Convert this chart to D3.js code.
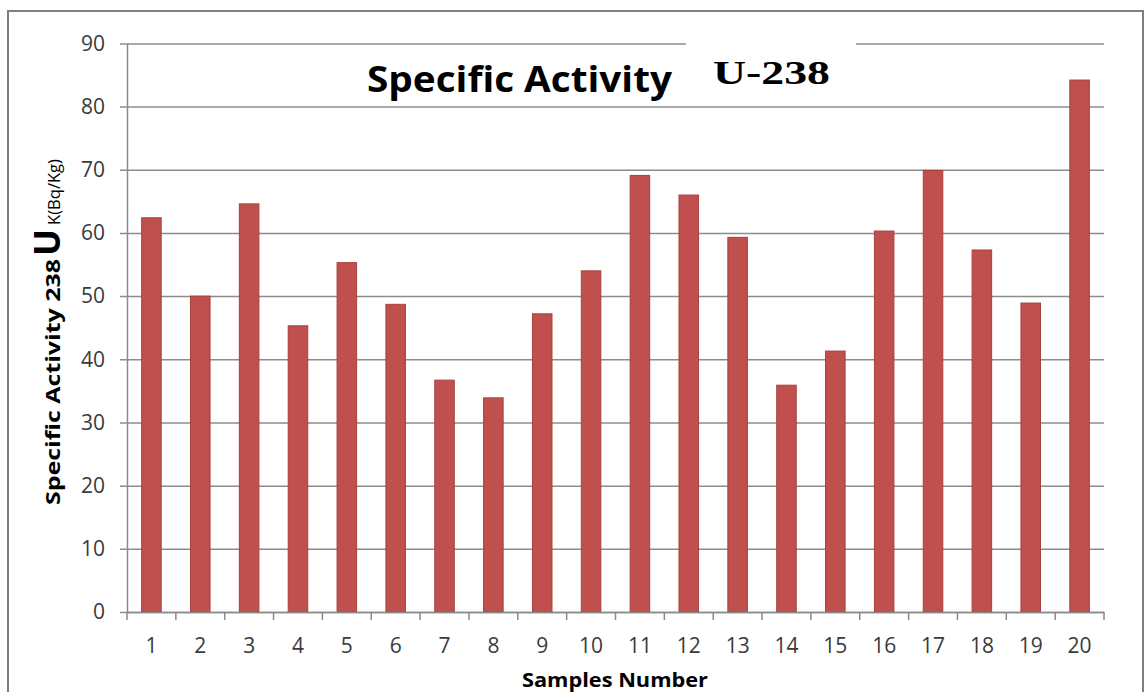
<!DOCTYPE html>
<html><head><meta charset="utf-8">
<script src="https://cdn.jsdelivr.net/npm/d3@7"></script>
<style>body{margin:0;background:#fff}svg{display:block}</style>
</head><body>
<svg id="c" width="1147" height="692"></svg>
<script>
const categories = ["1","2","3","4","5","6","7","8","9","10","11","12","13","14","15","16","17","18","19","20"];
const values = [62.4,50.0,64.6,45.3,55.3,48.7,36.7,33.9,47.2,54.0,69.1,66.0,59.3,35.9,41.3,60.3,69.9,57.3,48.9,84.2];
const yTicks = [0,10,20,30,40,50,60,70,80,90];

const svg = d3.select("#c");
const pL = 127, pR = 1104, pT = 43.4, pB = 612;
const x = d3.scaleBand().domain(categories).range([pL, pR]).paddingInner(0.6).paddingOuter(0.3);
const xb = d3.scaleBand().domain(categories).range([pL, pR]);
const y = d3.scaleLinear().domain([0, 90]).range([pB, pT]);

// outer frame
svg.append("rect").attr("x",8).attr("y",11).attr("width",1135).attr("height",700)
  .attr("fill","#fff").attr("stroke","#7f7f7f").attr("stroke-width",2);

// gridlines
const yAxis = d3.axisLeft(y).tickValues(yTicks).tickSize(-(pR-pL)).tickPadding(22).tickSizeOuter(0);
const gy = svg.append("g").attr("transform",`translate(${pL},0)`).call(yAxis);
gy.select(".domain").attr("stroke","#8a8a8a").attr("stroke-width",1.5);
gy.selectAll(".tick line").attr("stroke","#8c8c8c").attr("stroke-width",1.5).attr("x1",-7);
gy.selectAll(".tick text").attr("font-family","'Open Sans', sans-serif").attr("font-size",21).attr("fill","#3a3a3a");

// bars
svg.append("g").selectAll("rect").data(values).join("rect")
  .attr("x",(d,i)=>x(categories[i])).attr("width",x.bandwidth())
  .attr("y",d=>y(d)).attr("height",d=>y(0)-y(d))
  .attr("fill","#c0504d").attr("stroke","#a8413e").attr("stroke-width",1);

// x axis
const xAxis = d3.axisBottom(xb).tickSize(0).tickPadding(26);
const gx = svg.append("g").attr("transform",`translate(0,${pB})`).call(xAxis);
gx.select(".domain").attr("stroke","#8a8a8a").attr("stroke-width",1.5);
gx.selectAll(".tick text").attr("font-family","'Open Sans', sans-serif").attr("font-size",21).attr("fill","#3a3a3a");
const bounds = categories.map(c=>xb(c)).concat([pR]);
gx.selectAll(".bt").data(bounds).join("line").attr("class","bt")
  .attr("x1",d=>d).attr("x2",d=>d).attr("y1",0).attr("y2",8)
  .attr("stroke","#8a8a8a").attr("stroke-width",1.5);

// title
svg.append("rect").attr("x",686).attr("y",36).attr("width",170).attr("height",14).attr("fill","#fff");
svg.append("text").attr("x",367).attr("y",92).attr("font-family","'Open Sans', sans-serif")
  .attr("font-weight","bold").attr("font-size",36).attr("fill","#000")
  .attr("textLength",305).attr("lengthAdjust","spacingAndGlyphs").text("Specific Activity");
svg.append("text").attr("x",713).attr("y",84).attr("font-family","'Liberation Serif', serif")
  .attr("font-weight","bold").attr("font-size",34).attr("fill","#000")
  .attr("textLength",117).attr("lengthAdjust","spacingAndGlyphs").text("U-238");

// y label
const yl = svg.append("text").attr("transform","translate(60,505) rotate(-90)")
  .attr("text-anchor","start").attr("font-family","'Open Sans', sans-serif").attr("fill","#000");
yl.append("tspan").attr("font-weight","bold").attr("font-size",20)
  .attr("textLength",246).attr("lengthAdjust","spacingAndGlyphs").text("Specific Activity 238");
yl.append("tspan").attr("font-weight","bold").attr("font-size",36).attr("dx",3)
  .attr("textLength",27).attr("lengthAdjust","spacingAndGlyphs").text("U");
yl.append("tspan").attr("font-size",17).attr("dx",4)
  .attr("textLength",66).attr("lengthAdjust","spacingAndGlyphs").text("K(Bq/Kg)");

// x label
svg.append("text").attr("x",522).attr("y",687)
  .attr("font-family","'Open Sans', sans-serif").attr("font-weight","bold").attr("font-size",20)
  .attr("textLength",186).attr("lengthAdjust","spacingAndGlyphs")
  .attr("fill","#000").text("Samples Number");
</script>
</body></html>
